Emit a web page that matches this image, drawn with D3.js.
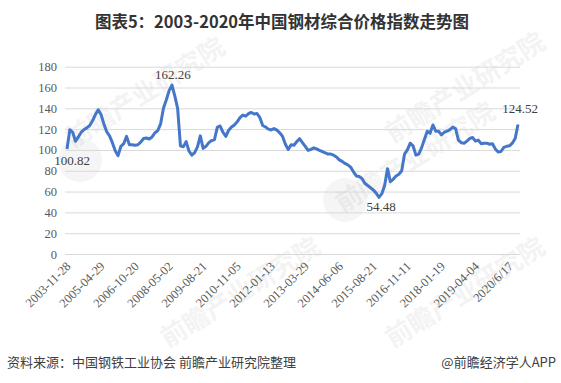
<!DOCTYPE html>
<html>
<head>
<meta charset="utf-8">
<script src="https://cdn.jsdelivr.net/npm/d3@7"></script>
<style>
  body { margin: 0; background: #fff; }
  svg { display: block; }
  .grid line { stroke: #d9d9d9; }
  .grid text, .xaxis text { font-family: "Liberation Serif", serif; font-size: 12.5px; fill: #595959; }
</style>
</head>
<body>
<svg id="chart"></svg>
<script>
// x-axis category labels (one every 12 points)
var tickLabels = ['2003-11-28', '2005-04-29', '2006-10-20', '2008-05-02', '2009-08-21',
    '2010-11-05', '2012-01-13', '2013-03-29', '2014-06-06', '2015-08-21',
    '2016-11-11', '2018-01-19', '2019-04-04', '2020/6/17'];
var tickStep = 12;

// composite steel price index
var indexValues = [
    100.82, 119.5, 117, 108.3, 112.5, 117, 119.6, 121.2, 123.5, 128,
    134, 138.5, 134, 125, 117.5, 113.5, 107, 99.3, 94.5, 103.5,
    106, 113, 105, 105, 104.5, 105, 107.5, 111, 111.5, 110.5,
    112.5, 116.5, 118.5, 125, 140, 148, 157, 162.26, 152, 140,
    104, 103, 108, 99, 95, 97.5, 103, 113.5, 101.5, 103.5,
    107, 109, 110, 122, 123, 117, 113, 119, 122, 124,
    127, 131, 133.5, 132.5, 135, 136, 134.5, 135, 131, 123.5,
    122, 120, 119.2, 120.5, 119, 116.5, 113, 105.5, 100.5, 105,
    104.5, 108, 110.8, 107, 103.5, 99.5, 100.5, 102, 101, 99.6,
    98.5, 97.3, 96, 96, 95, 93.2, 90.5, 89, 87, 85.7,
    83.5, 79, 75, 74.5, 72.5, 68, 65.8, 63.7, 61.5, 58.5,
    54.48, 58, 66, 82, 69.5, 71.8, 75, 76.6, 80, 96,
    100, 106.5, 104, 95, 96, 102, 110, 118, 116, 124,
    118, 118, 114.5, 117, 118, 119.5, 122, 120.5, 109.5, 107,
    106.5, 108.5, 111, 112, 108.5, 109.5, 106, 106.5, 106.5, 105.5,
    106, 101, 98, 98.5, 102.5, 103.5, 104, 106.5, 111, 124.52
];

var yTicks = [0, 20, 40, 60, 80, 100, 120, 140, 160, 180];

var titleText = '图表5：2003-2020年中国钢材综合价格指数走势图';
var sourceText = '资料来源：中国钢铁工业协会 前瞻产业研究院整理';
var brandText = '@前瞻经济学人APP';
var watermarkText = '前瞻产业研究院';

var W = 561, H = 383;
var svg = d3.select('#chart').attr('width', W).attr('height', H);

// watermarks (very faint)
var marks = [[150, 100], [470, 95], [420, 165], [245, 300], [470, 300]];
svg.selectAll('.wm')
    .data(marks)
    .enter()
    .append('text')
    .attr('class', 'wm')
    .attr('transform', function(d) { return 'translate(' + d[0] + ',' + d[1] + ') rotate(-32)'; })
    .attr('text-anchor', 'middle')
    .style('font-family', '"Noto Sans CJK SC", sans-serif')
    .style('font-weight', 'bold')
    .style('font-size', '26px')
    .style('fill', '#000')
    .style('opacity', 0.045)
    .text(watermarkText);
svg.selectAll('.logo')
    .data([[80, 160], [345, 200]])
    .enter()
    .append('circle')
    .attr('cx', function(d) { return d[0]; })
    .attr('cy', function(d) { return d[1]; })
    .attr('r', 22)
    .style('fill', '#000')
    .style('opacity', 0.04);

// scales
var xScale = d3.scaleLinear().domain([0, indexValues.length - 1]).range([67, 518]);
var yScale = d3.scaleLinear().domain([0, 180]).range([254, 66.7]);

// y grid + labels
var yAxis = d3.axisLeft(yScale).tickValues(yTicks).tickSize(-455).tickPadding(8);
var gy = svg.append('g')
    .attr('class', 'grid')
    .attr('transform', 'translate(65,0)')
    .call(yAxis);
gy.select('.domain').remove();

// x labels
var xAxis = d3.axisBottom(xScale)
    .tickValues(tickLabels.map(function(d, i) { return i * tickStep; }))
    .tickFormat(function(d) { return tickLabels[d / tickStep]; })
    .tickSize(0);
var gx = svg.append('g')
    .attr('class', 'xaxis')
    .attr('transform', 'translate(0,254)')
    .call(xAxis);
gx.select('.domain').remove();
gx.selectAll('text')
    .attr('x', 0).attr('y', 0).attr('dy', 0)
    .attr('transform', 'translate(4,13) rotate(-45)')
    .style('text-anchor', 'end');

// line
var line = d3.line()
    .x(function(d, i) { return xScale(i); })
    .y(function(d) { return yScale(d); });
svg.append('path')
    .datum(indexValues)
    .attr('d', line)
    .attr('fill', 'none')
    .attr('stroke', '#4477c8')
    .attr('stroke-width', 3)
    .attr('stroke-linejoin', 'round');

// data labels: first, max, min, last
var last = indexValues.length - 1;
var iMax = d3.maxIndex(indexValues), iMin = d3.minIndex(indexValues);
var labels = [[0, 5, 16], [iMax, 1, -6], [iMin, 2, 14], [last, 2, -11]];
svg.selectAll('.dlabel')
    .data(labels)
    .enter()
    .append('text')
    .attr('class', 'dlabel')
    .attr('x', function(d) { return xScale(d[0]) + d[1]; })
    .attr('y', function(d) { return yScale(indexValues[d[0]]) + d[2]; })
    .attr('text-anchor', 'middle')
    .style('font-family', '"Liberation Serif", serif')
    .style('font-size', '13px')
    .style('fill', '#404040')
    .text(function(d) { return indexValues[d[0]].toFixed(2); });

// title
svg.append('text')
    .attr('x', 282).attr('y', 28)
    .attr('text-anchor', 'middle')
    .style('font-family', '"Noto Sans CJK SC", sans-serif')
    .style('font-weight', 'bold')
    .style('font-size', '16.5px')
    .style('fill', '#333')
    .text(titleText);

// footer
svg.append('text')
    .attr('x', 7).attr('y', 367)
    .style('font-family', '"Noto Sans CJK SC", sans-serif')
    .style('font-size', '13px')
    .style('fill', '#404040')
    .text(sourceText);
svg.append('text')
    .attr('x', 556).attr('y', 367)
    .attr('text-anchor', 'end')
    .style('font-family', '"Noto Sans CJK SC", sans-serif')
    .style('font-size', '13px')
    .style('fill', '#404040')
    .text(brandText);
</script>
</body>
</html>
